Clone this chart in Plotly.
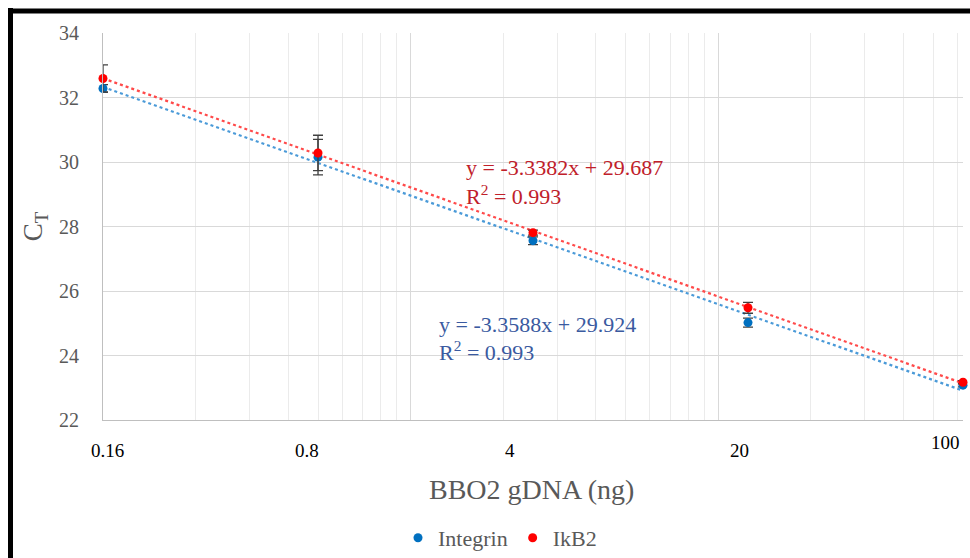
import math
import plotly.graph_objects as go

# ---- data ----
dna_ng = [0.16, 0.8, 4, 20, 100]
integrin_ct = [32.28, 30.15, 27.56, 25.02, 23.08]
integrin_err = [0.12, 0.55, 0.12, 0.14, 0.05]
ikb2_ct = [32.59, 30.28, 27.81, 25.48, 23.17]
ikb2_err = [0.42, 0.55, 0.08, 0.17, 0.05]

x_tick_vals = [0.16, 0.8, 4, 20, 100]
x_tick_text = ["0.16", "0.8", "4", "20", "100"]

integrin_eq = ["y = -3.3588x + 29.924", "R<sup>2</sup> = 0.993"]
ikb2_eq = ["y = -3.3382x + 29.687", "R<sup>2</sup> = 0.993"]

# ---- layout helpers (pixels -> paper) ----
W_FIG, H_FIG = 970, 558
L, T, W, H = 103, 33, 860, 387


def px(x):
    return (x - L) / W


def py(y):
    return (T + H - y) / H


def fit(xs, ys):
    lx = [math.log10(v) for v in xs]
    mx = sum(lx) / len(lx)
    my = sum(ys) / len(ys)
    sxy = sum((a - mx) * (b - my) for a, b in zip(lx, ys))
    sxx = sum((a - mx) ** 2 for a in lx)
    m = sxy / sxx
    b = my - m * mx
    return [m * a + b for a in lx]


FONT = "Liberation Serif, Times New Roman, serif"
BLUE = "#0070C0"
RED = "#FF0000"
GRAY = "#595959"

fig = go.Figure()

# trendlines
fig.add_trace(go.Scatter(x=dna_ng, y=fit(dna_ng, integrin_ct), mode="lines",
                         line=dict(color="#4A9AD8", width=2.2, dash="dot"),
                         showlegend=False, hoverinfo="skip"))
fig.add_trace(go.Scatter(x=dna_ng, y=fit(dna_ng, ikb2_ct), mode="lines",
                         line=dict(color="#FF4A4A", width=2.2, dash="dot"),
                         showlegend=False, hoverinfo="skip"))

# points
fig.add_trace(go.Scatter(x=dna_ng, y=integrin_ct, mode="markers", name="Integrin",
                         marker=dict(color=BLUE, size=9), cliponaxis=False,
                         error_y=dict(type="data", array=integrin_err, color="#404040",
                                      thickness=1.3, width=5)))
fig.add_trace(go.Scatter(x=dna_ng, y=ikb2_ct, mode="markers", name="IkB2",
                         marker=dict(color=RED, size=9), cliponaxis=False,
                         error_y=dict(type="data", array=ikb2_err, color="#404040",
                                      thickness=1.3, width=5)))

# gridline positions of the Excel log axis (base 10, min 0.16)
major_grid = [0.16, 1.6, 16]
minor_grid = []
for n in range(3):
    for k in range(2, 10):
        v = 0.16 * k * 10 ** n
        if v <= 100:
            minor_grid.append(round(v, 4))

annotations = []
# x tick labels (hand-placed text in original)
tick_shift = [4, -11, -23, -9, -18]
tick_y = [-30, -30, -30, -30, -22]
for v, t, dx, dy in zip(x_tick_vals, x_tick_text, tick_shift, tick_y):
    annotations.append(dict(x=math.log10(v), xref="x", y=0, yref="paper", text=t,
                            showarrow=False, xanchor="center", yanchor="middle",
                            xshift=dx, yshift=dy,
                            font=dict(family=FONT, size=19, color="#000000")))

# x-axis title
annotations.append(dict(x=px(531), y=py(489), xref="paper", yref="paper",
                        text="BBO2 gDNA (ng)", showarrow=False,
                        xanchor="center", yanchor="middle",
                        font=dict(family=FONT, size=28, color=GRAY)))

# equations
for line, (xp, yp) in zip(ikb2_eq, [(464, 167), (464, 195)]):
    annotations.append(dict(x=px(xp), y=py(yp), xref="paper", yref="paper", text=line,
                            showarrow=False, xanchor="left", yanchor="middle",
                            font=dict(family=FONT, size=22, color="#C0202A")))
for line, (xp, yp) in zip(integrin_eq, [(437, 324), (437, 351)]):
    annotations.append(dict(x=px(xp), y=py(yp), xref="paper", yref="paper", text=line,
                            showarrow=False, xanchor="left", yanchor="middle",
                            font=dict(family=FONT, size=22, color="#3A5AA0")))

# black frame (left and top)
shapes = [
    dict(type="line", xref="paper", yref="paper", x0=px(10.5), x1=px(10.5),
         y0=py(8), y1=py(565), line=dict(color="#000000", width=5)),
    dict(type="line", xref="paper", yref="paper", x0=px(8), x1=px(975),
         y0=py(11), y1=py(11), line=dict(color="#000000", width=5)),
]

fig.update_layout(
    width=W_FIG, height=H_FIG,
    margin=dict(l=L, r=W_FIG - L - W, t=T, b=H_FIG - T - H, autoexpand=False),
    paper_bgcolor="white", plot_bgcolor="white",
    font=dict(family=FONT, color=GRAY),
    showlegend=True,
    legend=dict(orientation="h", xref="container", yref="container",
                x=500 / W_FIG, y=1 - 538 / H_FIG, xanchor="center", yanchor="middle",
                font=dict(family=FONT, size=22, color=GRAY), itemwidth=30,
                bgcolor="rgba(0,0,0,0)"),
    annotations=annotations,
    shapes=shapes,
)

fig.update_xaxes(type="log", range=[math.log10(0.16), math.log10(100)],
                 tickmode="array", tickvals=major_grid, showticklabels=False,
                 showgrid=True, gridcolor="#D9D9D9", gridwidth=1,
                 minor=dict(tickmode="array", tickvals=minor_grid, showgrid=True,
                            gridcolor="#EBEBEB", gridwidth=1, ticks=""),
                 showline=True, linecolor="#BFBFBF", linewidth=1, zeroline=False,
                 ticks="", automargin=False)
fig.update_yaxes(range=[22, 34], tickmode="linear", tick0=22, dtick=2,
                 showgrid=True, gridcolor="#D9D9D9", gridwidth=1,
                 showline=True, linecolor="#BFBFBF", linewidth=1, zeroline=False,
                 ticks="", ticklabelstandoff=19, automargin=False,
                 tickfont=dict(family=FONT, size=20, color=GRAY),
                 title=dict(text="C<sub>T</sub>", standoff=8,
                            font=dict(family=FONT, size=27, color=GRAY)))

fig.write_html("out.html")
